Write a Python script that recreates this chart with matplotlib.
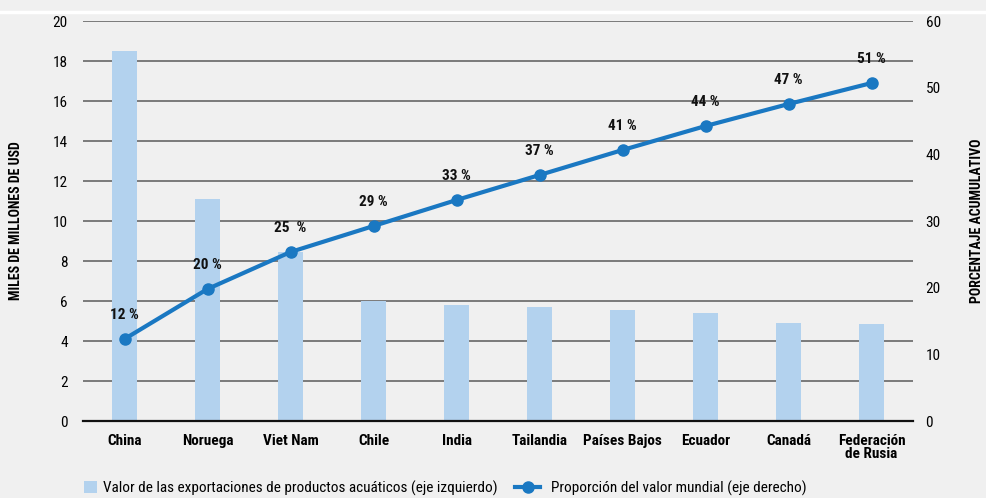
import matplotlib
matplotlib.use("Agg")
import matplotlib.pyplot as plt
from matplotlib.lines import Line2D
from matplotlib.patches import Patch

countries = ["China", "Noruega", "Viet Nam", "Chile", "India", "Tailandia",
             "Países Bajos", "Ecuador", "Canadá", "Federación\nde Rusia"]
export_values = [18.5, 11.1, 8.45, 6.0, 5.8, 5.7, 5.55, 5.4, 4.9, 4.85]
cum_share = [12.3, 19.8, 25.35, 29.25, 33.15, 36.9, 40.65, 44.25, 47.55, 50.7]
share_labels = ["12 %", "20 %", "25  %", "29 %", "33 %", "37 %", "41 %", "44 %", "47 %", "51 %"]
left_ticks = [0, 2, 4, 6, 8, 10, 12, 14, 16, 18, 20]
right_ticks = [0, 10, 20, 30, 40, 50, 60]

FONT = ['Liberation Sans Narrow', 'Roboto Condensed', 'Roboto', 'DejaVu Sans']
plt.rcParams['font.family'] = FONT

BG = '#f0f0f0'
BAR = '#b3d2ee'
LINE = '#1a78c2'
GRID = '#5a5a5a'

fig = plt.figure(figsize=(9.87, 4.98), dpi=100, facecolor=BG)
ax = fig.add_axes([0.0841, 0.1546, 0.841, 0.8032])
ax.set_facecolor(BG)
x = list(range(len(countries)))

ax.set_axisbelow(True)
ax.yaxis.grid(True, color=GRID, linewidth=1.1)
ax.bar(x, export_values, width=0.3, color=BAR, zorder=2)
ax.set_xlim(-0.5, len(countries) - 0.5)
ax.set_ylim(0, 20)
ax.set_yticks(left_ticks)
ax.set_xticks(x)
ax.set_xticklabels(countries, fontweight='bold', fontsize=11, linespacing=0.95)
ax.tick_params(axis='both', length=0, labelsize=11)
ax.tick_params(axis='y', pad=11)
ax.tick_params(axis='x', pad=9)
for s in ['top', 'right', 'left']:
    ax.spines[s].set_visible(False)
ax.spines['bottom'].set_color('#111111')
ax.spines['bottom'].set_linewidth(1.6)
ax.spines['bottom'].set_zorder(5)
ax.set_ylabel("MILES DE MILLONES DE USD", fontweight='bold', fontsize=10, va='center')
ax.yaxis.set_label_coords(-0.081, 0.5)

ax2 = ax.twinx()
ax2.set_ylim(0, 60)
ax2.set_yticks(right_ticks)
ax2.tick_params(axis='y', length=0, labelsize=11, pad=9)
for s in ['top', 'right', 'left', 'bottom']:
    ax2.spines[s].set_visible(False)
ax2.plot(x, cum_share, color=LINE, linewidth=3, marker='o', markersize=8, zorder=4)
for xi, yi, lab in zip(x, cum_share, share_labels):
    ax2.annotate(lab, (xi, yi), xytext=(0, 12), textcoords='offset points',
                 ha='center', va='bottom', fontsize=11, fontweight='bold', color='#111111')
ax2.set_ylabel("PORCENTAJE ACUMULATIVO", fontweight='bold', fontsize=10, va='center')
ax2.yaxis.set_label_coords(1.077, 0.5)

# white separator line at top
fig.add_artist(Line2D([0, 1], [1 - 12/498, 1 - 12/498], transform=fig.transFigure,
                      color='white', linewidth=2.5))

leg_y = 1 - 488 / 498
leg1 = fig.legend([Patch(facecolor=BAR, edgecolor='none')],
                  ["Valor de las exportaciones de productos acuáticos (eje izquierdo)"],
                  loc='center left', bbox_to_anchor=(84 / 987, leg_y), frameon=False,
                  fontsize=11, handlelength=0.85, handleheight=0.85, handletextpad=0.4,
                  borderpad=0, borderaxespad=0)
leg2 = fig.legend([Line2D([0], [0], color=LINE, linewidth=3, marker='o', markersize=8)],
                  ["Proporción del valor mundial (eje derecho)"],
                  loc='center left', bbox_to_anchor=(515 / 987, leg_y), frameon=False,
                  fontsize=11, handlelength=1.65, handletextpad=0.7,
                  borderpad=0, borderaxespad=0)

fig.savefig("out.png", dpi=100, facecolor=BG)
